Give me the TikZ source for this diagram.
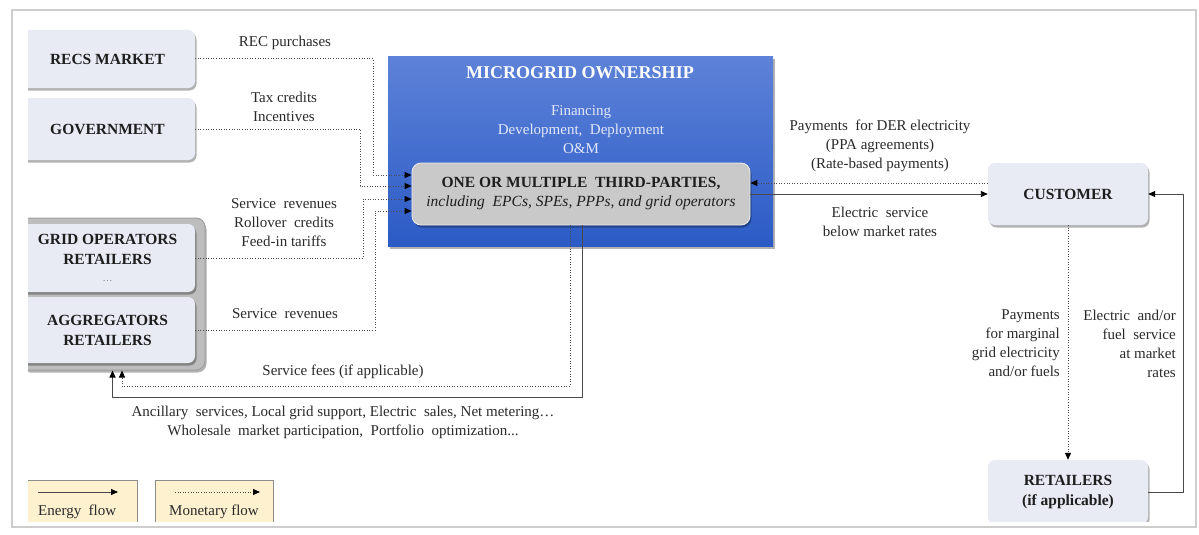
\documentclass[tikz,border=0pt]{standalone}
\usepackage{fontspec}
\setmainfont{Liberation Serif}
\usetikzlibrary{arrows.meta,shadows,calc}

\definecolor{boxfill}{HTML}{E8EAF4}
\definecolor{grpfill}{HTML}{BDBDBD}
\definecolor{grpline}{HTML}{A0A0A0}
\definecolor{blueTop}{HTML}{5D82D8}
\definecolor{blueBot}{HTML}{2C5BC6}
\definecolor{tpfill}{HTML}{C9C9C9}
\definecolor{legfill}{HTML}{FDF1CF}
\definecolor{legline}{HTML}{8C8C8C}
\definecolor{ink}{HTML}{1E1E1E}
\definecolor{lblink}{HTML}{2A2A2A}
\definecolor{wire}{HTML}{4A4A4A}
\definecolor{paleblue}{HTML}{E2E8F8}
\definecolor{framegray}{HTML}{CDCDCD}

\tikzset{
  x=1pt, y=-1pt,
  boxshadow/.style={drop shadow={shadow xshift=1.5pt, shadow yshift=-2.5pt, fill=black, opacity=.3}},
  actor/.style={rounded corners=7pt, fill=boxfill, draw=none, text=ink,
    font=\fontsize{15.5}{20}\selectfont\bfseries, align=center, inner sep=0pt, boxshadow},
  lbl/.style={text=lblink, font=\fontsize{15}{19}\selectfont, align=center, inner sep=0pt},
  tip/.style={-{Triangle[length=7pt,width=6pt,color=black]}},
  money/.style={draw=wire, line width=1pt, dash pattern=on 1pt off 1.6pt, tip},
  energy/.style={draw=wire, line width=0.9pt, tip},
  legbox/.style={fill=legfill, draw=legline, line width=0.8pt, inner sep=0pt}
}

\begin{document}
\begin{tikzpicture}
\useasboundingbox (0,0) rectangle (1199,535);
\fill[white] (0,0) rectangle (1199,535);

% outer frame
\draw[framegray, line width=1.4pt] (12,10) rectangle (1196,527);

\begin{scope}
\clip (28,11) rectangle (1195,521);

% market actors on the left
\node[actor, minimum width=175pt, minimum height=58pt] (recs) at (107.5,59) {RECS MARKET};
\node[actor, minimum width=175pt, minimum height=62pt] (gov) at (107.5,129) {GOVERNMENT};
\node[rounded corners=9pt, fill=grpfill, draw=grpline, line width=1pt,
      minimum width=185pt, minimum height=152pt, inner sep=0pt, boxshadow] (grp) at (112.5,294) {};
\node[actor, minimum width=175pt, minimum height=68pt] (grid) at (107.5,258)
  {GRID OPERATORS\\RETAILERS\\[-3pt]{\normalfont\fontsize{10}{10}\selectfont\color{gray}\dots}};
\node[actor, minimum width=175pt, minimum height=66pt] (aggr) at (107.5,330) {AGGREGATORS\\RETAILERS};

% microgrid ownership block
\node[top color=blueTop, bottom color=blueBot, draw=none, minimum width=385pt,
      minimum height=189pt, inner sep=0pt, boxshadow] (own) at (580.5,151.5) {};
\node[text=white, font=\fontsize{18}{20}\selectfont\bfseries, inner sep=0pt] (ownt) at (580,73) {MICROGRID OWNERSHIP};
\node[lbl, text=paleblue] (ownl) at (581,130) {Financing\\Development,\ \ Deployment\\O\&M};
\node[rounded corners=9pt, fill=tpfill, draw=white!85!gray, line width=0.8pt, text=ink,
      minimum width=338pt, minimum height=62pt, inner sep=0pt, align=center, boxshadow,
      font=\fontsize{15.5}{19}\selectfont\bfseries] (tp) at (581,194)
  {ONE OR MULTIPLE\ \ THIRD-PARTIES,\\{\normalfont\itshape including\ \ EPCs, SPEs, PPPs, and grid operators}};

% customer side
\node[actor, minimum width=160pt, minimum height=62pt] (cust) at (1068,194) {CUSTOMER};
\node[actor, minimum width=160pt, minimum height=64pt] (ret) at (1068,492) {RETAILERS\\(if applicable)};

% legend
\node[legbox, minimum width=110pt, minimum height=60pt] (lege) at (82,510) {};
\node[legbox, minimum width=118pt, minimum height=60pt] (legm) at (214,510) {};
\coordinate (le1) at (38,492);
\coordinate (le2) at (118,492);
\coordinate (lm1) at (175,492);
\coordinate (lm2) at (260,492);
\draw[energy] (le1) -- (le2);
\draw[money] (lm1) -- (lm2);
\node[lbl, anchor=west] (legel) at (38,512) {Energy\ \ flow};
\node[lbl, anchor=west] (legml) at (169,512) {Monetary flow};
\end{scope}

% monetary flows into the third parties
\draw[money] (recs.east) -- ++(178,0) |- ([yshift=19pt]tp.west);
\draw[money] (gov.east) -- ++(165,0) |- ([yshift=8pt]tp.west);
\draw[money] (grid.east) -- ++(168,0) |- ([yshift=-5pt]tp.west);
\draw[money] (aggr.east) -- ++(180,0) |- ([yshift=-17pt]tp.west);

% flows back to grid operators / aggregators
\draw[money] ([xshift=-11pt]tp.south) -- ++(0,161) -| ([xshift=9.5pt]grp.south);
\draw[energy] ([xshift=1pt]tp.south) -- ++(0,172) -| (grp.south);

% third parties <-> customer
\draw[money] ([yshift=11pt]cust.west) -- ([yshift=11pt]tp.east);
\draw[energy] (tp.east) -- (cust.west);

% customer <-> retailers
\draw[money] (cust.south) -- (ret.north);
\draw[energy] (ret.east) -- ++(35,0) |- (cust.east);

% flow labels
\node[lbl] (l1) at (285,43) {REC purchases};
\node[lbl] (l2) at (284,106.5) {Tax credits\\Incentives};
\node[lbl] (l3) at (284,223) {Service\ \ revenues\\Rollover\ \ credits\\Feed-in tariffs};
\node[lbl] (l4) at (285,314) {Service\ \ revenues};
\node[lbl] (l5) at (343,372) {Service fees (if applicable)};
\node[lbl] (l6) at (343,422) {Ancillary\ \ services, Local grid support, Electric\ \ sales, Net metering…\\Wholesale\ \ market participation,\ \ Portfolio\ \ optimization...};
\node[lbl] (l7) at (880,146) {Payments\ \ for DER electricity\\(PPA agreements)\\(Rate-based payments)};
\node[lbl] (l8) at (880,222) {Electric\ \ service\\below market rates};
\node[lbl, align=right, anchor=east] (l9) at (1060,343) {Payments\\for marginal\\grid electricity\\and/or fuels};
\node[lbl, align=right, anchor=east] (l10) at (1176,344) {Electric\ \ and/or\\fuel\ \ service\\at market\\rates};
\end{tikzpicture}
\end{document}
